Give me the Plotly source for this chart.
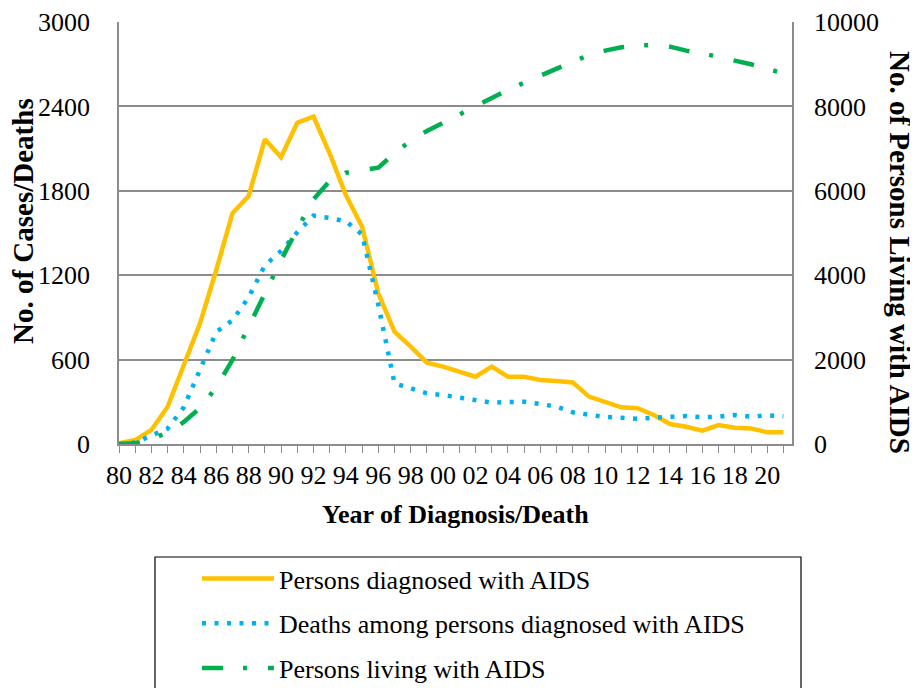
import plotly.graph_objects as go

years = list(range(1980, 2022))
tick_labels = ["80", "82", "84", "86", "88", "90", "92", "94", "96", "98", "00",
               "02", "04", "06", "08", "10", "12", "14", "16", "18", "20"]
diagnosed = [5, 28, 100, 265, 562, 858, 1237, 1640, 1763, 2166, 2038, 2284, 2327, 2066,
             1770, 1545, 1071, 798, 692, 578, 550, 510, 478, 550, 478, 478, 455, 448,
             438, 337, 301, 261, 254, 206, 142, 123, 95, 135, 116, 111, 83, 83]
deaths = [0, 10, 60, 109, 261, 531, 796, 879, 1043, 1270, 1372, 1505, 1623, 1607,
          1583, 1490, 990, 431, 398, 360, 348, 329, 316, 294, 298, 301, 284, 265,
          225, 206, 192, 187, 180, 187, 190, 199, 190, 194, 206, 194, 204, 197]
living = [0, 15, 111, 277, 521, 853, 1343, 1991, 2780, 3586, 4353, 5096, 5799, 6230,
          6430, 6486, 6549, 6889, 7189, 7418, 7616, 7813, 8003, 8200, 8390, 8563, 8730,
          8895, 9077, 9219, 9321, 9402, 9440, 9456, 9416, 9321, 9258, 9179, 9100, 8998,
          8888, 8786]

FONT = "Liberation Serif"
GRID = "#8c8c8c"

fig = go.Figure()
fig.add_trace(go.Scatter(x=years, y=diagnosed, mode="lines", name="Persons diagnosed with AIDS",
                         line=dict(color="#FFC000", width=4.5), legendgroup="a"))
fig.add_trace(go.Scatter(x=years, y=deaths, mode="lines", name="Deaths among persons diagnosed with AIDS",
                         line=dict(color="#00B0F0", width=4.5, dash="4px,8.5px"), legendgroup="b"))
fig.add_trace(go.Scatter(x=years, y=living, mode="lines", name="Persons living with AIDS",
                         line=dict(color="#00B050", width=4.5, dash="21px,20px,4px,21px"),
                         yaxis="y2", legendgroup="c"))

# page body has an 8px margin: work in page pixels and subtract it
OFF = 8
W, H = 918 - OFF, 688 - OFF
L, R, T, B = 119 - OFF, 792 - OFF, 22 - OFF, 444 - OFF
pw, ph = R - L, B - T

def px(x):
    return (x - OFF - L) / pw

def py(y):
    return (B - (y - OFF)) / ph

fig.update_layout(
    width=W, height=H,
    margin=dict(l=L, r=W - R, t=T, b=H - B, autoexpand=False),
    paper_bgcolor="white", plot_bgcolor="white",
    font=dict(family=FONT, size=26, color="black"),
    xaxis=dict(range=[1980, 2021.53], tickvals=years[::2], ticktext=tick_labels,
               ticks="outside", ticklen=7, tickcolor=GRID, tickwidth=1.3,
               minor=dict(ticks="outside", ticklen=7, tickcolor=GRID, tickwidth=1.3, dtick=1, tick0=1980),
               showline=True, linecolor=GRID, linewidth=1.5, showgrid=False, zeroline=False,
               tickfont=dict(family=FONT, size=26)),
    yaxis=dict(range=[0, 3000], dtick=600, tick0=0, showgrid=True, gridcolor=GRID, gridwidth=1.5,
               showline=True, linecolor=GRID, linewidth=1.5, zeroline=False,
               ticklabelstandoff=22, tickfont=dict(family=FONT, size=26)),
    yaxis2=dict(range=[0, 10000], dtick=2000, tick0=0, overlaying="y", side="right",
                tickformat="d",
                showgrid=False, showline=True, linecolor=GRID, linewidth=1.5, zeroline=False,
                ticklabelstandoff=15, tickfont=dict(family=FONT, size=26)),
    showlegend=True,
    legend=dict(x=px(197), y=py(555), xanchor="left", yanchor="top",
                bgcolor="rgba(0,0,0,0)", borderwidth=0, itemwidth=72,
                font=dict(family=FONT, size=26), tracegroupgap=8),
    shapes=[dict(type="rect", xref="paper", yref="paper",
                 x0=px(155), x1=px(801), y0=py(720), y1=py(557),
                 line=dict(color="black", width=1.2), fillcolor="rgba(0,0,0,0)")],
    annotations=[
        dict(text="<b>No. of Cases/Deaths</b>", xref="paper", yref="paper",
             x=px(23), y=py(221), showarrow=False, textangle=-90, xanchor="center", yanchor="middle",
             font=dict(family=FONT, size=29)),
        dict(text="<b>Year of Diagnosis/Death</b>", xref="paper", yref="paper",
             x=px(455), y=py(514), showarrow=False, xanchor="center", yanchor="middle",
             font=dict(family=FONT, size=26)),
        dict(text="<b>No. of Persons Living with AIDS</b>", xref="paper", yref="paper",
             x=px(900), y=py(252), showarrow=False, textangle=90, xanchor="center", yanchor="middle",
             font=dict(family=FONT, size=29)),
    ],
)

fig.write_html("out.html")
